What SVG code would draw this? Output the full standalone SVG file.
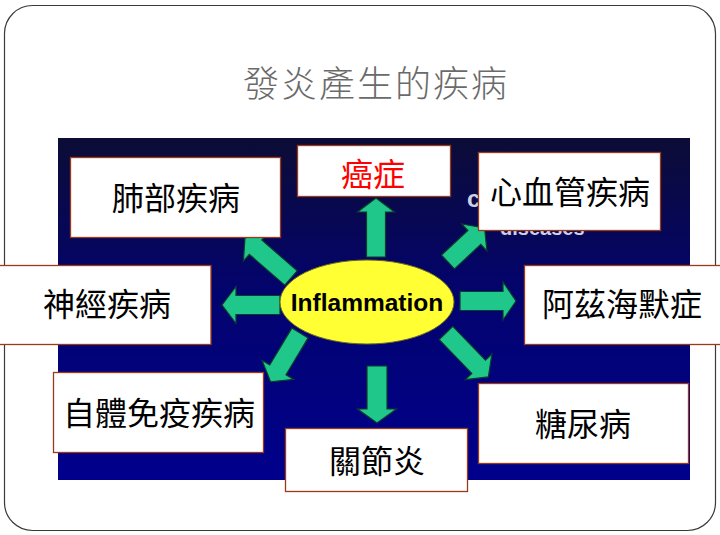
<svg xmlns="http://www.w3.org/2000/svg" width="720" height="535" viewBox="0 0 720 535">
<defs>
<linearGradient id="panel" x1="0" y1="0" x2="0" y2="1">
<stop offset="0" stop-color="#0c0c36"/>
<stop offset="0.45" stop-color="#03036e"/>
<stop offset="1" stop-color="#00008c"/>
</linearGradient>
<style>
.box{fill:#ffffff;stroke:#9a3a1a;stroke-width:1.3}
.lbl{font-family:"Noto Sans CJK TC","Noto Sans CJK SC",sans-serif;font-size:32px;fill:#000;text-anchor:middle;dominant-baseline:central}
.arr{fill:#1fc78b;stroke:#0d3b2c;stroke-width:1.2;stroke-linejoin:miter}
.bg{font-family:"Liberation Sans",Arial,sans-serif;font-weight:bold;fill:#d0d0e0}
</style>
</defs>
<rect x="0" y="0" width="720" height="535" fill="#ffffff"/>
<rect x="4.5" y="5.5" width="711" height="525" rx="28" ry="28" fill="none" stroke="#3a3a3a" stroke-width="1.2"/>
<text x="376" y="81" font-family="'Noto Sans CJK TC','Noto Sans CJK SC',sans-serif" font-size="36" font-weight="300" fill="#6a6a6a" text-anchor="middle" dominant-baseline="central" letter-spacing="2">發炎產生的疾病</text>
<rect x="58" y="138" width="632" height="342" fill="url(#panel)"/>
<text class="bg" x="467" y="207" font-size="24">c</text>
<text class="bg" x="500" y="235" font-size="20">diseases</text>
<g id="connectors">
<polygon class="arr" transform="translate(376,257) rotate(-90)" points="0,-9.5 45,-9.5 45,-18.5 59,0 45,18.5 45,9.5 0,9.5"/>
<polygon class="arr" transform="translate(291,278) rotate(-139)" points="0,-9.5 47,-9.5 47,-18.5 61,0 47,18.5 47,9.5 0,9.5"/>
<polygon class="arr" transform="translate(448,262) rotate(-43)" points="0,-9.5 36,-9.5 36,-18.5 50,0 36,18.5 36,9.5 0,9.5"/>
<polygon class="arr" transform="translate(280,305) rotate(180)" points="0,-9.5 44,-9.5 44,-18.5 58,0 44,18.5 44,9.5 0,9.5"/>
<polygon class="arr" transform="translate(460,301) rotate(0)" points="0,-9.5 43,-9.5 43,-19 56,0 43,19 43,9.5 0,9.5"/>
<polygon class="arr" transform="translate(300,333) rotate(121)" points="0,-9.5 43,-9.5 43,-18.5 57,0 43,18.5 43,9.5 0,9.5"/>
<polygon class="arr" transform="translate(377,366) rotate(90)" points="0,-10 43,-10 43,-19.5 57,0 43,19.5 43,10 0,10"/>
<polygon class="arr" transform="translate(446,333) rotate(46)" points="0,-9.5 47,-9.5 47,-18.5 61,0 47,18.5 47,9.5 0,9.5"/>
</g>
<g id="inflammation">
<ellipse cx="367" cy="302" rx="87" ry="42" fill="#ffff33" stroke="#6b6b20" stroke-width="1"/>
<text x="367" y="302" font-family="'Liberation Sans',Arial,sans-serif" font-weight="bold" font-size="24.5" fill="#000" text-anchor="middle" dominant-baseline="central">Inflammation</text>
</g>
<g id="lung">
<rect class="box" x="70.5" y="157.5" width="210" height="80"/>
<text class="lbl" x="176" y="196">肺部疾病</text>
</g>
<g id="cancer">
<rect class="box" x="297.5" y="145.5" width="153" height="51"/>
<text class="lbl" x="373" y="172" style="fill:#ff0000">癌症</text>
</g>
<g id="cardio">
<rect class="box" x="478.5" y="152.5" width="182" height="78"/>
<text class="lbl" x="570" y="190">心血管疾病</text>
</g>
<g id="neuro">
<rect class="box" x="-1" y="265.5" width="212" height="79"/>
<text class="lbl" x="107" y="302">神經疾病</text>
</g>
<g id="alzheimer">
<rect class="box" x="524.5" y="265.5" width="197" height="79"/>
<text class="lbl" x="622" y="302">阿茲海默症</text>
</g>
<g id="autoimmune">
<rect class="box" x="53.5" y="372.5" width="210" height="80"/>
<text class="lbl" x="159" y="411">自體免疫疾病</text>
</g>
<g id="arthritis">
<rect class="box" x="285.5" y="428.5" width="182" height="63"/>
<text class="lbl" x="377" y="459">關節炎</text>
</g>
<g id="diabetes">
<rect class="box" x="478.5" y="383.5" width="210" height="80"/>
<text class="lbl" x="583" y="422">糖尿病</text>
</g>
</svg>
